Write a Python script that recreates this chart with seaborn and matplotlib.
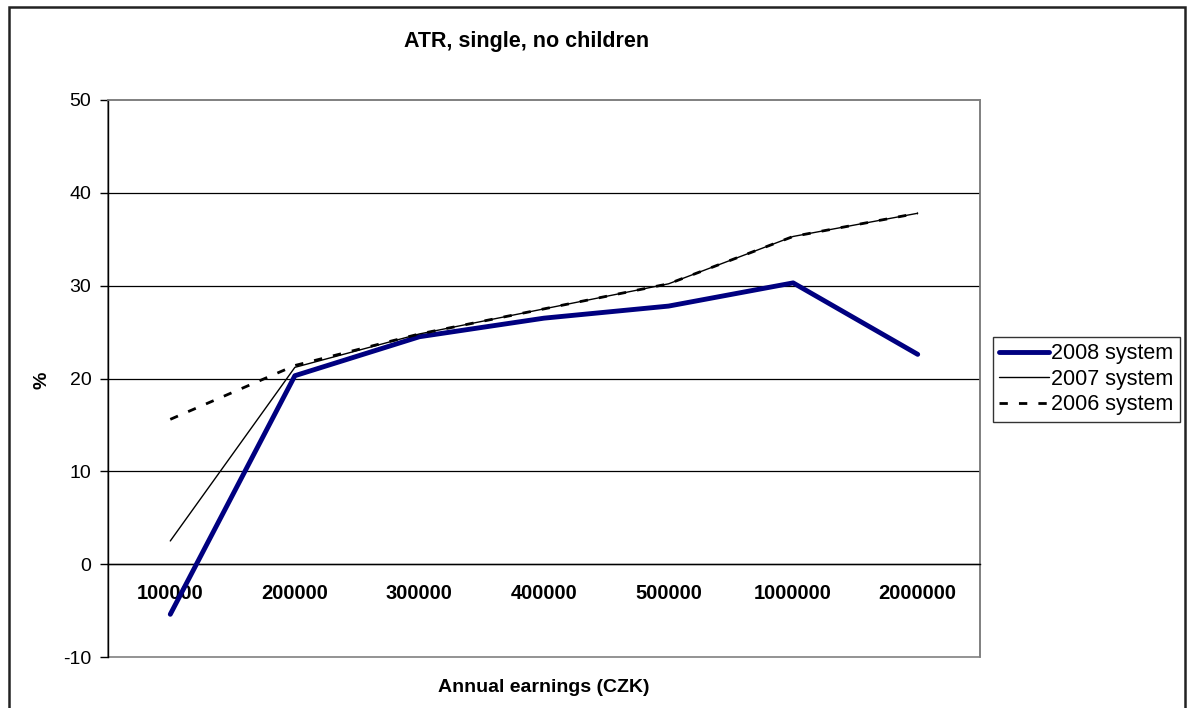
import matplotlib
matplotlib.use("Agg")
import matplotlib.pyplot as plt
import seaborn as sns
import pandas as pd
from matplotlib.patches import Rectangle
from matplotlib.ticker import FixedLocator

categories = ["100000", "200000", "300000", "400000", "500000", "1000000", "2000000"]
sys2008 = [-5.4, 20.3, 24.5, 26.5, 27.8, 30.3, 22.6]
sys2007 = [2.5, 21.2, 24.8, 27.5, 30.2, 35.3, 37.8]
sys2006 = [15.6, 21.4, 24.8, 27.5, 30.2, 35.3, 37.8]
series_names = ["2008 system", "2007 system", "2006 system"]

sns.set_style("white")
plt.rcParams["font.family"] = ["Liberation Sans", "DejaVu Sans"]
plt.rcParams["text.color"] = "black"
plt.rcParams["xtick.color"] = "black"
plt.rcParams["ytick.color"] = "black"
plt.rcParams["axes.labelcolor"] = "black"

rows = []
for name, vals in zip(series_names, [sys2008, sys2007, sys2006]):
    for c, v in zip(categories, vals):
        rows.append({"earn": c, "val": v, "series": name})
df = pd.DataFrame(rows)

fig = plt.figure(figsize=(11.87, 7.08), dpi=100)
ax = fig.add_axes([108/1187, 1-657/708, (980-108)/1187, (657-100)/708])

styles = {
    "2008 system": dict(color="#000080", lw=3.5, ls="-"),
    "2007 system": dict(color="black", lw=1.0, ls="-"),
    "2006 system": dict(color="black", lw=2.0, ls=(0, (3, 4))),
}
for name in series_names:
    sub = df[df.series == name]
    st = styles[name]
    sns.lineplot(data=sub, x="earn", y="val", ax=ax, color=st["color"],
                 linewidth=st["lw"], linestyle=st["ls"], label=name, sort=False,
                 zorder=3 if name == "2008 system" else 4)

ax.set_xlim(-0.5, 6.5)
ax.set_ylim(-10, 50)
ax.set_yticks(range(-10, 51, 10))
ax.set_yticklabels([str(v) for v in range(-10, 51, 10)], fontsize=14)
for y in range(0, 50, 10):
    ax.axhline(y, color="black", lw=0.9, zorder=1)

ax.spines["bottom"].set_position(("data", 0))
ax.spines["bottom"].set_color("black")
ax.spines["bottom"].set_linewidth(1.0)
ax.spines["left"].set_color("black")
ax.spines["left"].set_linewidth(1.0)
for s in ["top", "right"]:
    ax.spines[s].set_color("#808080")
    ax.spines[s].set_linewidth(1.2)
ax.add_patch(Rectangle((0, 0), 1, 1, transform=ax.transAxes, fill=False,
                       edgecolor="#808080", lw=1.2, zorder=0, clip_on=False))

ax.set_xticks(range(len(categories)))
ax.set_xticklabels(categories, fontsize=14.5, fontweight="bold")
ax.tick_params(axis="x", which="major", length=0, pad=14)
ax.xaxis.set_minor_locator(FixedLocator([i + 0.5 for i in range(-1, 7)]))
ax.tick_params(axis="x", which="minor", length=6, direction="out", color="black", width=1)
ax.tick_params(axis="y", length=6, direction="out", left=True, color="black", width=1, pad=6)

ax.set_xlabel("")
ax.set_ylabel("")
fig.text(544/1187, 1-688/708, "Annual earnings (CZK)", ha="center", va="center",
         fontsize=14, fontweight="bold")
fig.text(42/1187, 1-380/708, "%", ha="center", va="center", rotation=90,
         fontsize=14, fontweight="bold")
fig.text(527/1187, 1-41/708, "ATR, single, no children", ha="center", va="center",
         fontsize=15.5, fontweight="bold")

leg = ax.legend(loc="upper left", bbox_to_anchor=(993/1187, 1-337/708),
                bbox_transform=fig.transFigure, frameon=True, fancybox=False,
                fontsize=15.5, handlelength=2.3, handletextpad=0.1, borderpad=0.3,
                labelspacing=0.2, borderaxespad=0)
leg.get_frame().set_edgecolor("black")
leg.get_frame().set_linewidth(1.0)

fig.patches.append(Rectangle((9/1187, -0.02), (1185-9)/1187, 1-7/708+0.02,
                             transform=fig.transFigure, fill=False,
                             edgecolor="#222222", lw=1.8))

fig.savefig("out.png", dpi=100)
